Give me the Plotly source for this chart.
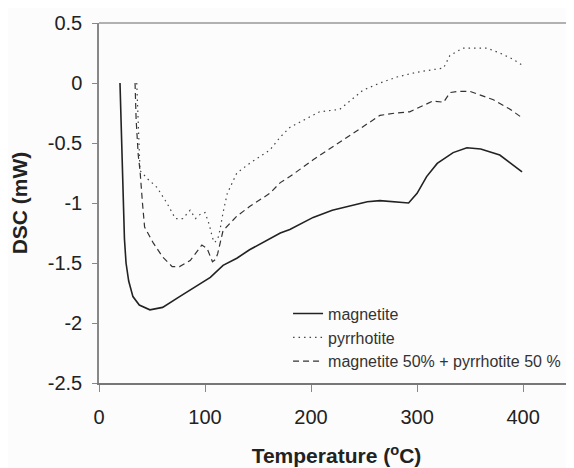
import plotly.graph_objects as go

# Magnetite (solid)
mag_T = [19.8, 20.5, 21.5, 22.6, 24, 25.5, 28, 32, 38, 48, 60, 76, 90, 105, 117, 130, 142, 160, 171, 180,
         202, 220, 234, 253, 265, 280, 292, 300, 309, 319, 334, 347, 360, 378, 388, 399]
mag_D = [0, -0.2, -0.5, -0.95, -1.3, -1.5, -1.65, -1.78, -1.85, -1.89, -1.87, -1.78, -1.7, -1.62, -1.52,
         -1.46, -1.39, -1.3, -1.25, -1.22, -1.12, -1.06, -1.03, -0.99, -0.98, -0.99, -1.0, -0.92, -0.78,
         -0.67, -0.58, -0.54, -0.55, -0.60, -0.67, -0.74]

# Pyrrhotite (dotted)
pyr_T = [35.6, 36.5, 37.5, 38.7, 46, 54.7, 64, 72, 79, 86, 91, 96, 100, 104, 107, 109, 112, 114, 117, 121,
         130, 142, 161, 171, 180, 195, 208, 227, 237, 249, 265, 281, 300, 315, 325, 331, 343, 350, 366,
         378, 390, 399]
pyr_D = [0, -0.2, -0.5, -0.73, -0.8, -0.87, -1.0, -1.13, -1.13, -1.06, -1.13, -1.09, -1.08, -1.18, -1.29,
         -1.33, -1.3, -1.23, -1.08, -0.92, -0.75, -0.67, -0.56, -0.45, -0.37, -0.3, -0.24, -0.22, -0.15,
         -0.06, 0.0, 0.05, 0.09, 0.11, 0.125, 0.23, 0.29, 0.29, 0.29, 0.25, 0.2, 0.15]

# Mixture (dashed)
mix_T = [34, 35, 37, 38.7, 41, 43, 51, 60, 69, 76, 86, 97, 102, 107, 110, 112, 117, 130, 142, 161, 171,
         180, 202, 234, 265, 280, 293, 315, 325, 331, 338, 350, 372, 388, 399]
mix_D = [0, -0.3, -0.6, -0.73, -1.0, -1.2, -1.33, -1.45, -1.53, -1.53, -1.48, -1.35, -1.38, -1.49, -1.47,
         -1.42, -1.23, -1.11, -1.03, -0.92, -0.83, -0.78, -0.64, -0.45, -0.27, -0.25, -0.24, -0.15, -0.16,
         -0.08, -0.07, -0.07, -0.14, -0.22, -0.29]

names = ["magnetite", "pyrrhotite", "magnetite 50% + pyrrhotite 50 %"]
x_ticks = [0, 100, 200, 300, 400]
y_ticks = [0.5, 0, -0.5, -1, -1.5, -2, -2.5]
y_tick_text = ["0.5", "0", "-0.5", "-1", "-1.5", "-2", "-2.5"]

fig = go.Figure()
fig.add_trace(go.Scatter(x=mag_T, y=mag_D, mode="lines", name=names[0],
                         line=dict(color="#222222", width=1.6, dash="solid")))
fig.add_trace(go.Scatter(x=pyr_T, y=pyr_D, mode="lines", name=names[1],
                         line=dict(color="#444444", width=1.2, dash="1.5px,4px")))
fig.add_trace(go.Scatter(x=mix_T, y=mix_D, mode="lines", name=names[2],
                         line=dict(color="#333333", width=1.2, dash="6px,4px")))

fig.update_layout(
    width=566, height=460,
    margin=dict(l=91, r=0, t=15, b=85, autoexpand=False),
    paper_bgcolor="#fcfcfc", plot_bgcolor="#fcfcfc",
    font=dict(family="Liberation Sans, Arial, sans-serif", color="#222222"),
    legend=dict(x=0.398, y=0.24, xanchor="left", yanchor="top",
                bgcolor="rgba(0,0,0,0)", font=dict(size=16, color="#333333"),
                tracegroupgap=0, itemwidth=30),
    showlegend=True,
)
fig.update_xaxes(range=[0, 448], tickvals=x_ticks, ticks="outside", ticklen=7, tickcolor="#888888",
                 showline=True, linecolor="#777777", linewidth=1.5, showgrid=False, zeroline=False,
                 ticklabelstandoff=8,
                 tickfont=dict(size=20, color="#222222"),
                 title=dict(text="<b>Temperature (<sup>o</sup>C)</b>", font=dict(size=21), standoff=22))
fig.update_yaxes(range=[-2.5, 0.5], tickvals=y_ticks, ticktext=y_tick_text,
                 ticks="outside", ticklen=5, tickcolor="#888888",
                 showline=True, linecolor="#888888", linewidth=1.5, showgrid=False, zeroline=False,
                 ticklabelstandoff=6,
                 tickfont=dict(size=20, color="#222222"),
                 title=dict(text="<b>DSC (mW)</b>", font=dict(size=21), standoff=17))
fig.add_shape(type="line", xref="paper", yref="paper", x0=0, x1=1, y0=1, y1=1,
              line=dict(color="#999999", width=1.5))

fig.write_html("out.html")
